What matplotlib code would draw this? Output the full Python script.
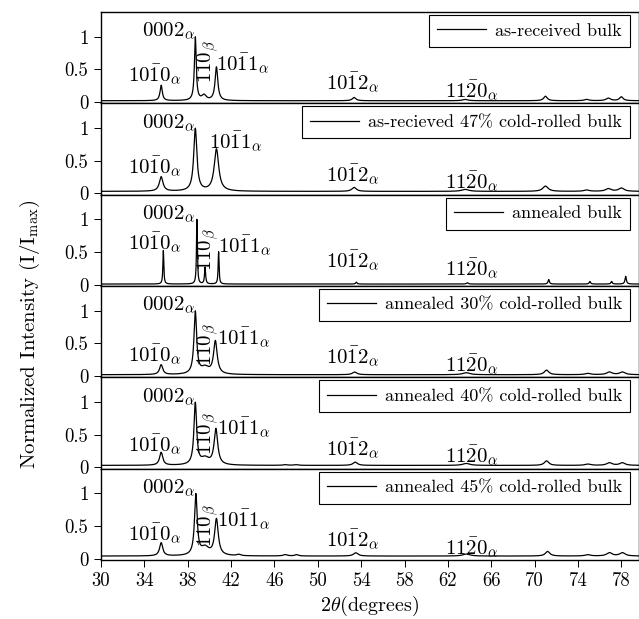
import matplotlib
matplotlib.use('Agg')
import matplotlib.pyplot as plt
import numpy as np

plt.rcParams['font.family'] = ['cmr10', 'DejaVu Serif']
plt.rcParams['mathtext.fontset'] = 'cm'
plt.rcParams['axes.unicode_minus'] = False

# panel names (legend text)
names = ['as-received bulk', 'as-recieved 47% cold-rolled bulk', 'annealed bulk',
         'annealed 30% cold-rolled bulk', 'annealed 40% cold-rolled bulk',
         'annealed 45% cold-rolled bulk']

# peak tables: position (2theta), height, FWHM, flat background
pos_asrec = [35.55, 38.7, 39.5, 40.65, 53.35, 63.6, 71.0, 74.8, 76.8, 78.0]
hgt_asrec = [0.24, 0.98, 0.08, 0.52, 0.05, 0.02, 0.07, 0.02, 0.04, 0.06]
fwhm_asrec = [0.25, 0.2, 0.5, 0.3, 0.4, 0.6, 0.4, 0.5, 0.5, 0.4]
bg_asrec = 0.02

pos_asrec47 = [35.55, 38.7, 40.65, 53.35, 63.6, 71.0, 74.8, 76.8, 78.0]
hgt_asrec47 = [0.22, 0.95, 0.64, 0.06, 0.03, 0.08, 0.02, 0.04, 0.05]
fwhm_asrec47 = [0.4, 0.35, 0.5, 0.5, 0.8, 0.6, 0.6, 0.6, 0.6]
bg_asrec47 = 0.03

pos_ann = [35.75, 38.85, 39.6, 40.85, 53.55, 63.8, 71.3, 75.1, 77.1, 78.4]
hgt_ann = [0.52, 1.0, 0.26, 0.5, 0.03, 0.02, 0.07, 0.04, 0.04, 0.12]
fwhm_ann = [0.1, 0.1, 0.12, 0.1, 0.15, 0.2, 0.15, 0.15, 0.15, 0.15]
bg_ann = 0.01

pos_ann30 = [35.55, 38.7, 39.6, 40.55, 53.4, 63.7, 71.1, 74.9, 76.9, 78.1]
hgt_ann30 = [0.15, 0.95, 0.1, 0.5, 0.04, 0.03, 0.07, 0.02, 0.04, 0.04]
fwhm_ann30 = [0.35, 0.3, 0.9, 0.4, 0.5, 0.8, 0.5, 0.6, 0.6, 0.6]
bg_ann30 = 0.02

pos_ann40 = [35.55, 38.7, 39.6, 40.6, 47.0, 48.0, 53.45, 63.7, 71.1, 74.9, 76.9, 78.1]
hgt_ann40 = [0.2, 0.95, 0.1, 0.55, 0.01, 0.01, 0.05, 0.03, 0.07, 0.02, 0.04, 0.04]
fwhm_ann40 = [0.35, 0.3, 0.9, 0.4, 0.5, 0.5, 0.5, 0.8, 0.5, 0.6, 0.6, 0.6]
bg_ann40 = 0.03

pos_ann45 = [35.55, 38.75, 39.6, 40.65, 42.7, 47.0, 48.05, 53.5, 63.7, 71.2, 74.9, 76.9, 78.1]
hgt_ann45 = [0.2, 0.92, 0.12, 0.55, 0.02, 0.02, 0.02, 0.05, 0.03, 0.07, 0.02, 0.05, 0.05]
fwhm_ann45 = [0.35, 0.3, 0.9, 0.4, 0.4, 0.5, 0.4, 0.5, 0.8, 0.5, 0.6, 0.6, 0.6]
bg_ann45 = 0.04

tables = [(pos_asrec, hgt_asrec, fwhm_asrec, bg_asrec),
          (pos_asrec47, hgt_asrec47, fwhm_asrec47, bg_asrec47),
          (pos_ann, hgt_ann, fwhm_ann, bg_ann),
          (pos_ann30, hgt_ann30, fwhm_ann30, bg_ann30),
          (pos_ann40, hgt_ann40, fwhm_ann40, bg_ann40),
          (pos_ann45, hgt_ann45, fwhm_ann45, bg_ann45)]

x_ticks = [30, 34, 38, 42, 46, 50, 54, 58, 62, 66, 70, 74, 78]
y_ticks = [0, 0.5, 1]
y_ticklabels = ['0', '0.5', '1']

# peak labels: text, x, y per panel (None = not shown)
lbl_1010 = r'$10\bar{1}0_\alpha$'
lbl_0002 = r'$0002_\alpha$'
lbl_110b = r'$110_\beta$'
lbl_1011 = r'$10\bar{1}1_\alpha$'
lbl_1012 = r'$10\bar{1}2_\alpha$'
lbl_1120 = r'$11\bar{2}0_\alpha$'
y_1010 = [0.41, 0.40, 0.64, 0.32, 0.35, 0.38]
y_110b = [0.62, None, 0.54, 0.48, 0.51, 0.51]
y_1011 = [0.59, 0.79, 0.59, 0.59, 0.60, 0.59]
x_1011 = [43.1, 42.4, 43.3, 43.2, 43.2, 43.2]
y_1012 = [0.29, 0.29, 0.36, 0.29, 0.29, 0.29]
y_1120 = [0.17, 0.17, 0.24, 0.17, 0.17, 0.17]


def pattern(x, pos, hgt, fwhm, bg):
    y = np.full_like(x, bg)
    for c, h, w in zip(pos, hgt, fwhm):
        y += h / (1 + ((x - c) / (w / 2)) ** 2)
    return y / y.max()


tt = np.linspace(30, 80, 5001)

fig, axes = plt.subplots(6, 1, sharex=True, figsize=(6.39, 6.19), dpi=100)
fig.subplots_adjust(left=101 / 639, right=1.0, top=1 - 12 / 619, bottom=1 - 560 / 619, hspace=0)

fs = 13.5
for i, ax in enumerate(axes):
    pos, hgt, fwhm, bg = tables[i]
    ax.plot(tt, pattern(tt, pos, hgt, fwhm, bg), color='black', lw=0.9, label=names[i])
    ax.set_xlim(30, 79.63)
    ax.set_ylim(-0.02, 1.38)
    ax.set_yticks(y_ticks)
    ax.set_yticklabels(y_ticklabels)
    ax.set_xticks(x_ticks)
    ax.tick_params(direction='out', length=5, width=0.7, labelsize=fs, pad=4)
    for s in ax.spines.values():
        s.set_linewidth(1.0)
    leg = ax.legend(loc='upper right', bbox_to_anchor=((630 - 101) / 538, 1 - 3 / 91.3),
                    borderaxespad=0, fancybox=False, edgecolor='black', framealpha=1,
                    fontsize=13, handlelength=2.7, handletextpad=0.5, borderpad=0.45)
    leg.get_frame().set_linewidth(0.8)

    tk = dict(fontsize=15, ha='center', va='center')
    ax.text(34.93, y_1010[i], lbl_1010, **tk)
    ax.text(36.2, 1.09, lbl_0002, **tk)
    if y_110b[i] is not None:
        ax.text(39.85, y_110b[i], lbl_110b, rotation=90, **tk)
    ax.text(x_1011[i], y_1011[i], lbl_1011, **tk)
    ax.text(53.25, y_1012[i], lbl_1012, **tk)
    ax.text(64.2, y_1120[i], lbl_1120, **tk)

for ax in axes[:-1]:
    ax.tick_params(labelbottom=False)

fig.text(370 / 639, 1 - 606 / 619, r'$2\theta$(degrees)', ha='center', va='center', fontsize=14.5)
fig.text(30 / 639, 1 - 334 / 619, r'Normalized Intensity (I/I$_{\mathrm{max}}$)',
         rotation=90, ha='center', va='center', fontsize=15)

fig.savefig('out.png', dpi=100)
